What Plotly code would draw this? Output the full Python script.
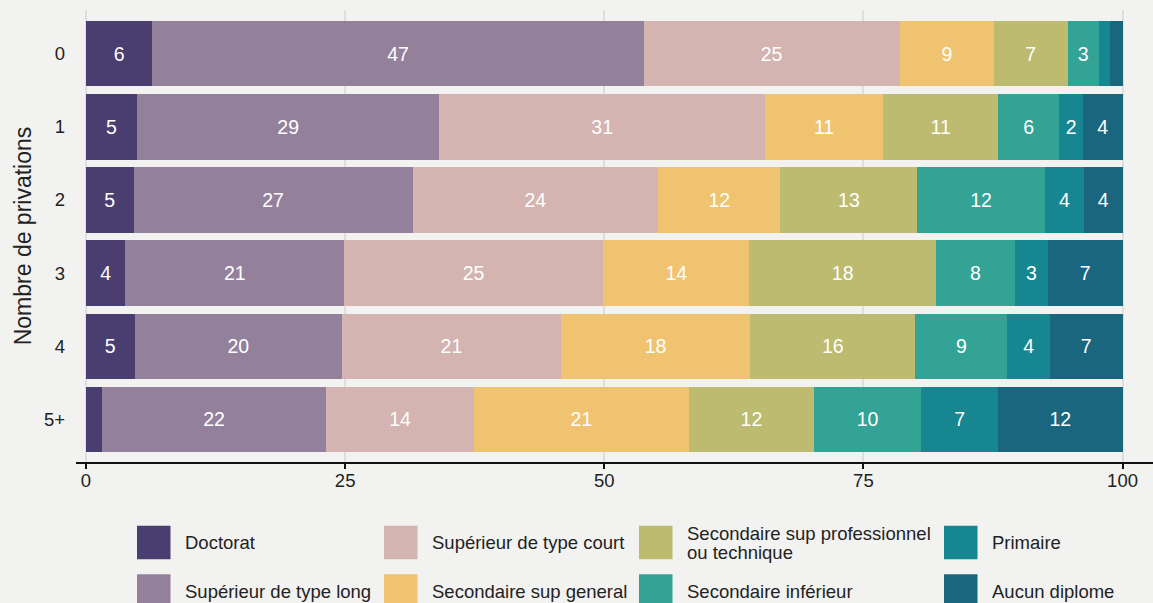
import plotly.graph_objects as go

categories = ["0", "1", "2", "3", "4", "5+"]

doctorat = [6.4, 4.9, 4.6, 3.8, 4.7, 1.5]
sup_long = [47.4, 29.2, 26.9, 21.1, 20.0, 21.7]
sup_court = [24.7, 31.4, 23.7, 25.0, 21.1, 14.2]
sec_gen = [9.1, 11.4, 11.8, 14.1, 18.3, 20.8]
sec_pro = [7.1, 11.1, 13.2, 18.0, 15.9, 12.0]
sec_inf = [3.0, 5.9, 12.3, 7.6, 8.9, 10.4]
primaire = [1.1, 2.3, 3.8, 3.2, 4.1, 7.4]
aucun = [1.2, 3.8, 3.7, 7.2, 7.0, 12.0]

series_names = [
    "Doctorat", "Supérieur de type long", "Supérieur de type court",
    "Secondaire sup general", "Secondaire sup professionnel<br>ou technique",
    "Secondaire inférieur", "Primaire", "Aucun diplome",
]
series_values = [doctorat, sup_long, sup_court, sec_gen, sec_pro, sec_inf, primaire, aucun]
colors = ["#4a3e70", "#93809b", "#d3b4b1", "#f0c371", "#bcbb6f", "#33a396", "#168691", "#1b667f"]

x_ticks = [0, 25, 50, 75, 100]

FONT = "Liberation Sans, Arial, sans-serif"
W, H = 1153, 603
ML, MR, MT, MB = 76, 0, 10, 141

fig = go.Figure()
for name, vals, col in zip(series_names, series_values, colors):
    labels = [str(int(v + 0.5)) if v >= 2 else "" for v in vals]
    fig.add_trace(go.Bar(
        y=categories, x=vals, orientation="h", name=name.replace("<br>", " "),
        marker=dict(color=col, line=dict(width=0)),
        text=labels, textposition="inside", insidetextanchor="middle",
        textangle=0, textfont=dict(family=FONT, size=19.5, color="#ffffff"),
        hoverinfo="skip", showlegend=False,
    ))

# px -> paper helpers (layout only)
pw = W - ML - MR
ph = H - MT - MB
def px_x(px):
    return (px - ML) / pw
def px_y(py):
    return (H - MB - py) / ph

# custom legend (layout order: columns)
legend_layout = [
    (0, 137, 542.5), (1, 137, 591),
    (2, 384, 542.5), (3, 384, 591),
    (4, 639, 542.5), (5, 639, 591),
    (6, 944, 542.5), (7, 944, 591),
]
shapes = []
annotations = []
sw = 33.5
for idx, lx, cy in legend_layout:
    shapes.append(dict(type="rect", xref="paper", yref="paper",
                       x0=px_x(lx), x1=px_x(lx + sw),
                       y0=px_y(cy - sw / 2), y1=px_y(cy + sw / 2),
                       fillcolor=colors[idx], line=dict(width=0), layer="above"))
    parts = series_names[idx].split("<br>")
    if len(parts) == 1:
        offsets = [0]
    else:
        offsets = [-9.5, 9.5]
    for part, off in zip(parts, offsets):
        annotations.append(dict(xref="paper", yref="paper", x=px_x(lx + 46), y=px_y(cy + off),
                                text=part, showarrow=False, xanchor="left", yanchor="middle",
                                font=dict(family=FONT, size=18.5, color="#222222")))

fig.update_layout(
    width=W, height=H,
    margin=dict(l=ML, r=MR, t=MT, b=MB, autoexpand=False),
    barmode="stack", bargap=0.105,
    paper_bgcolor="#f2f2f0", plot_bgcolor="#f2f2f0",
    font=dict(family=FONT, size=18.5, color="#222222"),
    showlegend=False,
    shapes=shapes, annotations=annotations,
    xaxis=dict(range=[-0.965, 102.94], tickvals=x_ticks, ticktext=[str(t) for t in x_ticks],
               showgrid=True, gridcolor="#dedede", gridwidth=1.5, zeroline=False,
               showline=True, linecolor="#111111", linewidth=2,
               ticks="outside", ticklen=5, tickwidth=2, tickcolor="#111111",
               ticklabelstandoff=-4,
               tickfont=dict(family=FONT, size=18.5, color="#222222"), automargin=False),
    yaxis=dict(range=[5.582, -0.596], showgrid=False, zeroline=False, showline=False,
               ticks="", ticklabelstandoff=10,
               tickfont=dict(family=FONT, size=18.5, color="#222222"),
               title=dict(text="Nombre de privations", standoff=5,
                          font=dict(family=FONT, size=23, color="#222222")),
               automargin=False),
)

fig.write_html("out.html", config={"displayModeBar": False},
               post_script="document.body.style.margin='0';document.body.style.overflow='hidden';")
